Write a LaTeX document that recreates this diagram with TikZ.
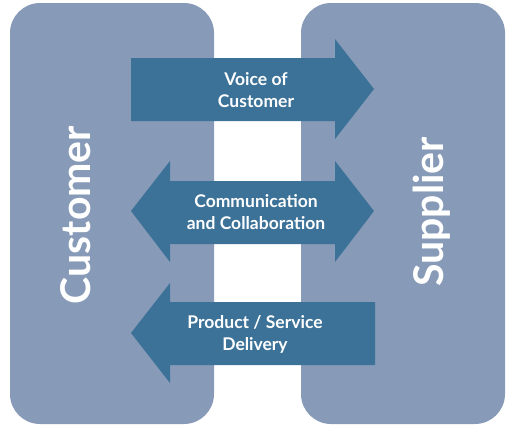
\documentclass[tikz,border=0pt]{standalone}
\usepackage{fontspec}
\setmainfont{Lato}
\definecolor{boxc}{HTML}{879BB8}
\definecolor{arrc}{HTML}{3C7298}
\begin{document}
\begin{tikzpicture}[x=1pt,y=-1pt,
  panel/.style={fill=boxc,rounded corners=30pt},
  arrowshape/.style={fill=arrc},
  lbl/.style={text=white,font=\bfseries\fontsize{17.5}{22}\selectfont,align=center,inner sep=0pt},
  side/.style={text=white,font=\bfseries\fontsize{41}{44}\selectfont,rotate=90,inner sep=0pt}]
\useasboundingbox (0,0) rectangle (509,426);
% panels
\fill[panel] (10,3) rectangle (214,424);
\fill[panel] (301,3) rectangle (505,424);
% arrow 1: right
\fill[arrowshape] (131,58) -- (335,58) -- (335,39) -- (374,89) -- (335,139) -- (335,121) -- (131,121) -- cycle;
% arrow 2: double
\fill[arrowshape] (131,211) -- (170,161) -- (170,181) -- (335,181) -- (335,161) -- (374,211) -- (335,262) -- (335,244) -- (170,244) -- (170,262) -- cycle;
% arrow 3: left
\fill[arrowshape] (131,333) -- (170,283) -- (170,302) -- (375,302) -- (375,365) -- (170,365) -- (170,383) -- cycle;
% labels
\node[side] (cust) at (76,215) {Customer};
\node[side] (supp) at (432,212) {Supplier};
\node[lbl] (voc) at (256,90) {Voice of\\Customer};
\node[lbl] (cc) at (256,212) {Communication\\and Collaboration};
\node[lbl] (psd) at (255,334) {Product / Service\\Delivery};
\end{tikzpicture}
\end{document}
